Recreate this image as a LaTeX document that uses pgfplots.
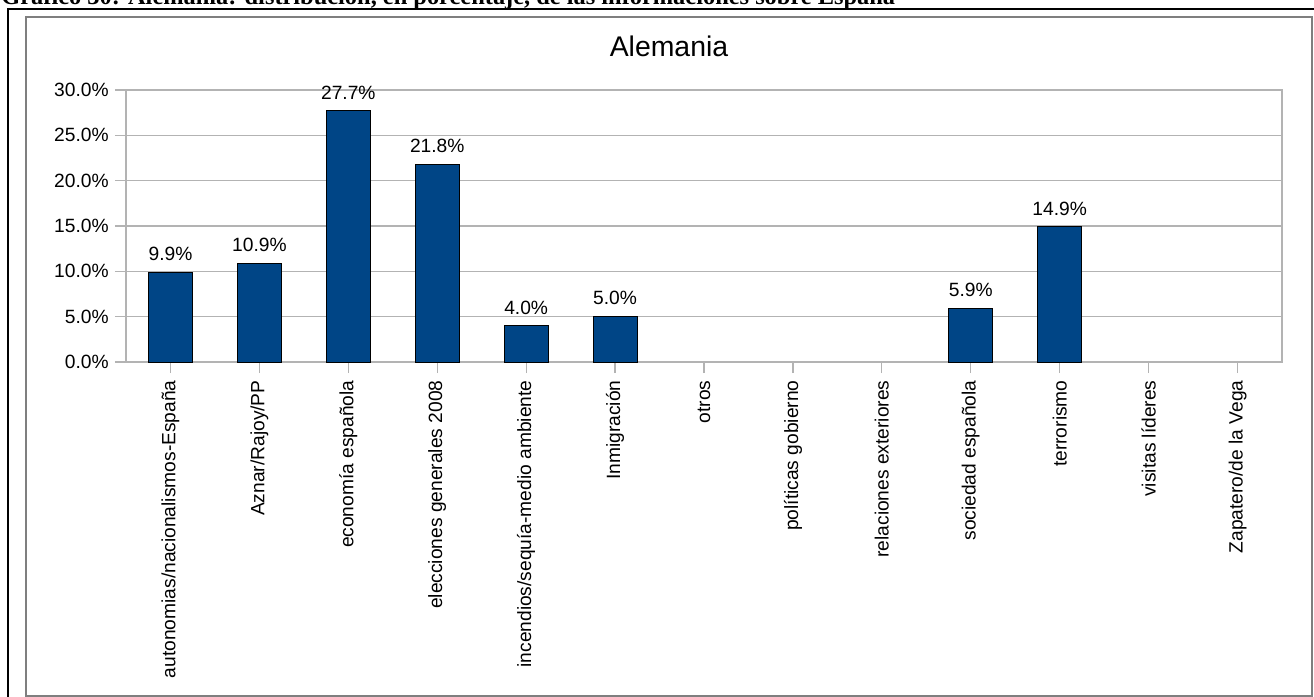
\documentclass[border=0pt]{standalone}
\usepackage{pgfplots}
\pgfplotsset{compat=1.18}
\usepackage{fontspec}
\setmainfont{Liberation Sans}
\newfontfamily\serifbold{Liberation Serif}
\definecolor{barblue}{HTML}{004586}
\definecolor{gridgray}{HTML}{B3B3B3}
\definecolor{framegray}{HTML}{7F7F7F}
\begin{document}
\begin{tikzpicture}
\useasboundingbox (0,0) rectangle (657pt,348.5pt);
\clip (0,0) rectangle (657pt,348.5pt);
% page title (cut at top, as in the reference)
\node[anchor=base west, inner sep=0pt, font=\serifbold\bfseries\fontsize{12.2}{14}\selectfont] at (0.5pt,346.2pt)
  {Gráfico 30: Alemania: distribución, en porcentaje, de las informaciones sobre España};
% outer black lines
\draw[black, line width=1pt] (4pt,0) -- (4pt,344.2pt) -- (657pt,344.2pt);
% chart frame
\draw[framegray, line width=1pt] (13.2pt,0.6pt) rectangle (655.8pt,340pt);
% chart title
\node[anchor=base, inner sep=0pt, font=\fontsize{14.2}{16}\selectfont] at (334.5pt,320pt) {Alemania};
\begin{axis}[
  at={(63pt,167.5pt)}, anchor=south west,
  scale only axis, width=578pt, height=136pt,
  xmin=0, xmax=13, ymin=0, ymax=30,
  ybar, bar width=22pt,
  xtick={0.5,1.5,...,12.5},
  xticklabels={autonomias/nacionalismos-España,Aznar/Rajoy/PP,economía española,elecciones generales 2008,incendios/sequía-medio ambiente,Inmigración,otros,políticas gobierno,relaciones exteriores,sociedad española,terrorismo,visitas líderes,Zapatero/de la Vega},
  x tick label style={rotate=90, anchor=east, font=\fontsize{9.6}{11}\selectfont, inner ysep=0pt, inner xsep=3.5pt},
  ytick={0,5,...,30},
  yticklabel={\pgfmathprintnumber[fixed,fixed zerofill,precision=1]{\tick}\%},
  y tick label style={font=\fontsize{9.6}{11}\selectfont, inner ysep=0pt, inner xsep=3pt, anchor=east},
  /pgf/number format/assume math mode=true,
  xtick pos=lower, ytick pos=left,
  tick align=outside, major tick length=5.5pt,
  tick style={gridgray, line width=0.6pt},
  axis line style={gridgray, line width=0.6pt},
  ymajorgrids, grid style={gridgray, line width=0.6pt},
  nodes near coords={\pgfmathprintnumber[fixed,fixed zerofill,precision=1]{\pgfplotspointmeta}\%},
  every node near coord/.append style={font=\fontsize{9.6}{11}\selectfont, inner sep=0pt, anchor=south, yshift=5.5pt, black},
]
\addplot[fill=barblue, draw=black, line width=0.5pt] coordinates {
  (0.5,9.9) (1.5,10.9) (2.5,27.7) (3.5,21.8) (4.5,4.0) (5.5,5.0)
  (9.5,5.9) (10.5,14.9)
};
\end{axis}
\end{tikzpicture}
\end{document}
